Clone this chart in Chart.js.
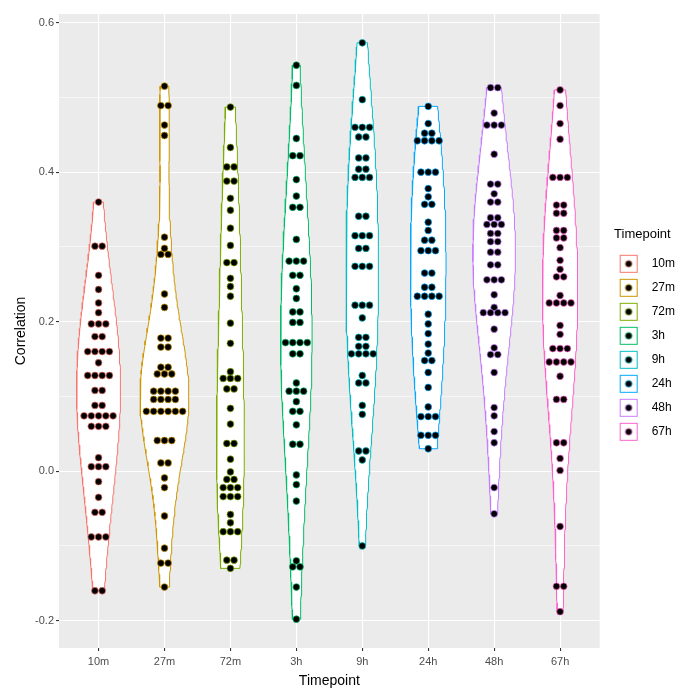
<!DOCTYPE html>
<html>
<head>
<meta charset="utf-8">
<script src="https://cdn.jsdelivr.net/npm/chart.js@4.4.0/dist/chart.umd.min.js"></script>
<style>
html, body { margin: 0; padding: 0; background: #fff; }
</style>
</head>
<body>
<canvas id="chart" width="689" height="690"></canvas>
<script>
// categories and colours (ggplot hue palette)
const timepoints = ['10m', '27m', '72m', '3h', '9h', '24h', '48h', '67h'];
const colors = ['#F8766D', '#CD9600', '#7CAE00', '#00BE67', '#00BFC4', '#00A9FF', '#C77CFF', '#FF61CC'];

// correlation values (repeated value = dots stacked in one row)
const corr10m = [0.360, 0.301, 0.301, 0.262, 0.243, 0.225, 0.212, 0.197, 0.197, 0.197, 0.180, 0.180,
  0.160, 0.160, 0.160, 0.160, 0.145, 0.128, 0.128, 0.128, 0.128, 0.108, 0.108, 0.088, 0.088,
  0.074, 0.074, 0.074, 0.074, 0.074, 0.060, 0.060, 0.060, 0.018, 0.006, 0.006, 0.006,
  -0.014, -0.035, -0.055, -0.055, -0.088, -0.088, -0.088, -0.160, -0.160];
const corr27m = [0.515, 0.489, 0.489, 0.463, 0.449, 0.313, 0.298, 0.290, 0.290, 0.237, 0.219,
  0.178, 0.178, 0.166, 0.166, 0.139, 0.139, 0.130, 0.130, 0.130, 0.107, 0.107, 0.107, 0.107,
  0.096, 0.096, 0.096, 0.096, 0.080, 0.080, 0.080, 0.080, 0.080, 0.080, 0.041, 0.041, 0.041,
  0.011, 0.011, -0.009, -0.022, -0.060, -0.103, -0.123, -0.123, -0.155];
const corr72m = [0.487, 0.433, 0.407, 0.407, 0.388, 0.388, 0.365, 0.349, 0.325, 0.302, 0.279, 0.279,
  0.258, 0.247, 0.234, 0.198, 0.171, 0.133, 0.124, 0.124, 0.124, 0.110, 0.110, 0.084, 0.063,
  0.037, 0.037, 0.016, -0.001, -0.011, -0.011, -0.022, -0.022, -0.022, -0.034, -0.034, -0.034,
  -0.058, -0.069, -0.081, -0.081, -0.081, -0.119, -0.119, -0.130];
const corr3h = [0.543, 0.516, 0.445, 0.422, 0.422, 0.390, 0.368, 0.353, 0.353, 0.310, 0.281, 0.281, 0.281,
  0.262, 0.262, 0.244, 0.231, 0.213, 0.213, 0.199, 0.199, 0.172, 0.172, 0.172, 0.172, 0.157, 0.157,
  0.118, 0.107, 0.107, 0.107, 0.093, 0.080, 0.080, 0.062, 0.036, 0.036, -0.005, -0.018, -0.040,
  -0.120, -0.128, -0.128, -0.155, -0.198];
const corr9h = [0.573, 0.497, 0.460, 0.460, 0.460, 0.447, 0.447, 0.419, 0.419, 0.404, 0.404,
  0.393, 0.393, 0.393, 0.341, 0.341, 0.315, 0.315, 0.315, 0.298, 0.298, 0.274, 0.274, 0.274,
  0.222, 0.222, 0.222, 0.205, 0.179, 0.179, 0.167, 0.167, 0.157, 0.157, 0.157, 0.157,
  0.128, 0.118, 0.118, 0.088, 0.076, 0.027, 0.027, 0.015, -0.100];
const corr24h = [0.488, 0.465, 0.452, 0.452, 0.442, 0.442, 0.442, 0.442, 0.400, 0.400, 0.400,
  0.378, 0.367, 0.357, 0.357, 0.333, 0.322, 0.309, 0.309, 0.295, 0.295, 0.295, 0.265, 0.265,
  0.246, 0.246, 0.234, 0.234, 0.234, 0.234, 0.210, 0.197, 0.184, 0.170, 0.158, 0.148, 0.148,
  0.132, 0.112, 0.086, 0.073, 0.073, 0.073, 0.048, 0.048, 0.048, 0.030];
const corr48h = [0.513, 0.513, 0.479, 0.463, 0.463, 0.463, 0.424, 0.384, 0.384, 0.371, 0.360, 0.360,
  0.339, 0.339, 0.330, 0.330, 0.330, 0.318, 0.318, 0.307, 0.307, 0.293, 0.293, 0.276, 0.276,
  0.256, 0.256, 0.256, 0.236, 0.219, 0.212, 0.212, 0.212, 0.212, 0.190, 0.165, 0.156, 0.156,
  0.132, 0.085, 0.074, 0.053, 0.038, -0.022, -0.057];
const corr67h = [0.510, 0.489, 0.465, 0.444, 0.393, 0.393, 0.393, 0.356, 0.356, 0.345, 0.345,
  0.322, 0.322, 0.312, 0.312, 0.299, 0.282, 0.270, 0.260, 0.260, 0.235, 0.225, 0.225, 0.225, 0.225,
  0.195, 0.183, 0.164, 0.164, 0.164, 0.146, 0.146, 0.146, 0.146, 0.127, 0.096, 0.096,
  0.038, 0.038, 0.017, 0.001, -0.074, -0.154, -0.154, -0.188];

const yTickValues = [-0.2, -0.1, 0, 0.1, 0.2, 0.3, 0.4, 0.5, 0.6];

const groups = [corr10m, corr27m, corr72m, corr3h, corr9h, corr24h, corr48h, corr67h];
const dotSpacing = 0.11;   // dot diameter in category units
const violinWidth = 0.74;
const bwAdjust = 1.9;

// bw.nrd0 like R
function bandwidth(v) {
  const n = v.length;
  const mean = v.reduce((a, b) => a + b, 0) / n;
  const sd = Math.sqrt(v.reduce((a, b) => a + (b - mean) ** 2, 0) / (n - 1));
  const s = [...v].sort((a, b) => a - b);
  const q = p => {
    const h = (n - 1) * p, lo = Math.floor(h);
    return s[lo] + (h - lo) * (s[Math.min(lo + 1, n - 1)] - s[lo]);
  };
  const lo = Math.min(sd, (q(0.75) - q(0.25)) / 1.34);
  return 0.9 * lo * Math.pow(n, -0.2);
}

function density(v) {
  const bw = bandwidth(v) * bwAdjust;
  const min = Math.min(...v), max = Math.max(...v);
  const out = [];
  for (let k = 0; k <= 120; k++) {
    const y = min + (max - min) * k / 120;
    let d = 0;
    v.forEach(x => { const u = (y - x) / bw; d += Math.exp(-0.5 * u * u); });
    out.push({ y: y, d: d / (v.length * bw * Math.sqrt(2 * Math.PI)) });
  }
  return out;
}

const densities = groups.map(density);
const maxDensity = Math.max(...densities.map(g => Math.max(...g.map(p => p.d))));

function violinOutline(dens, i) {
  const right = dens.map(p => ({ x: i + violinWidth / 2 * p.d / maxDensity, y: p.y }));
  const left = dens.map(p => ({ x: i - violinWidth / 2 * p.d / maxDensity, y: p.y })).reverse();
  return right.concat(left, [right[0]]);
}

function stackDots(values, i) {
  const rows = new Map();
  values.forEach(v => rows.set(v, (rows.get(v) || 0) + 1));
  const pts = [];
  rows.forEach((n, v) => {
    for (let k = 0; k < n; k++) pts.push({ x: i + (k - (n - 1) / 2) * dotSpacing, y: v });
  });
  return pts;
}

// y limits with ggplot's 5% expansion
const allValues = groups.flat();
const dataMin = Math.min(...allValues), dataMax = Math.max(...allValues);
const pad = (dataMax - dataMin) * 0.05;

const dotSets = groups.map((g, i) => ({
  data: stackDots(g, i),
  backgroundColor: '#000',
  borderColor: colors[i],
  borderWidth: 0.7,
  pointRadius: 3.4,
  order: 1
}));
const violinSets = densities.map((d, i) => ({
  data: violinOutline(d, i),
  showLine: true,
  borderColor: colors[i],
  borderWidth: 1,
  pointRadius: 0,
  fill: false,
  tension: 0,
  violin: true,
  order: 2
}));

// legend keys: outlined box with a dot
const keyIcons = colors.map(c => {
  const cv = document.createElement('canvas');
  cv.width = 20; cv.height = 20;
  const g = cv.getContext('2d');
  g.fillStyle = '#fff';
  g.fillRect(1, 1, 18, 18);
  g.strokeStyle = c;
  g.lineWidth = 1;
  g.strokeRect(1.5, 1.5, 17, 17);
  g.beginPath();
  g.arc(10, 10, 3.3, 0, Math.PI * 2);
  g.fillStyle = '#000';
  g.fill();
  g.strokeStyle = c;
  g.lineWidth = 0.7;
  g.stroke();
  return cv;
});

const panelBackground = {
  id: 'panelBackground',
  beforeDraw(chart) {
    const { ctx, chartArea: a } = chart;
    ctx.save();
    ctx.fillStyle = '#fff';
    ctx.fillRect(0, 0, chart.width, chart.height);
    ctx.fillStyle = '#EBEBEB';
    ctx.fillRect(a.left, a.top, a.right - a.left, a.bottom - a.top);
    ctx.restore();
  }
};

const violinFill = {
  id: 'violinFill',
  beforeDatasetsDraw(chart) {
    const ctx = chart.ctx;
    chart.data.datasets.forEach((ds, i) => {
      if (!ds.violin) return;
      const pts = chart.getDatasetMeta(i).data;
      ctx.save();
      ctx.beginPath();
      pts.forEach((p, k) => k ? ctx.lineTo(p.x, p.y) : ctx.moveTo(p.x, p.y));
      ctx.closePath();
      ctx.fillStyle = '#fff';
      ctx.fill();
      ctx.restore();
    });
  }
};

// lift the legend block a little
const legendShift = {
  id: 'legendShift',
  afterLayout(chart) {
    chart.legend.top -= 13;
    chart.legend.bottom -= 13;
  }
};

const isMajor = v => Math.abs(v * 5 - Math.round(v * 5)) < 1e-6;

new Chart(document.getElementById('chart'), {
  type: 'scatter',
  data: { datasets: dotSets.concat(violinSets) },
  options: {
    responsive: false,
    animation: false,
    events: [],
    layout: { padding: { top: 14, right: 4, left: 0, bottom: 0 } },
    plugins: {
      tooltip: { enabled: false },
      legend: {
        position: 'right',
        onClick: null,
        title: {
          display: true,
          text: 'Timepoint',
          color: '#000',
          font: { family: 'Liberation Sans', size: 13 },
          padding: { top: 0, bottom: 2 }
        },
        labels: {
          usePointStyle: true,
          pointStyleWidth: 34,
          padding: 12,
          color: '#1a1a1a',
          font: { family: 'Liberation Sans', size: 12 },
          generateLabels: () => timepoints.map((t, i) => ({
            text: t,
            pointStyle: keyIcons[i],
            fillStyle: 'transparent',
            strokeStyle: 'transparent',
            lineWidth: 0,
            hidden: false,
            datasetIndex: i
          }))
        }
      }
    },
    scales: {
      x: {
        type: 'linear',
        min: -0.6,
        max: timepoints.length - 0.4,
        afterBuildTicks: s => { s.ticks = timepoints.map((t, i) => ({ value: i })); },
        afterFit: s => { s.height = 42; },
        border: { display: false },
        grid: { color: '#fff', lineWidth: 1.1, tickColor: '#333', tickLength: 3 },
        ticks: {
          callback: v => timepoints[v],
          color: '#4D4D4D',
          padding: 4,
          maxRotation: 0,
          font: { family: 'Liberation Sans', size: 11 }
        },
        title: {
          display: true,
          text: 'Timepoint',
          color: '#000',
          font: { family: 'Liberation Sans', size: 14 },
          padding: { top: 0, bottom: 0 }
        }
      },
      y: {
        min: dataMin - pad,
        max: dataMax + pad,
        afterBuildTicks: s => { s.ticks = yTickValues.map(v => ({ value: v })); },
        afterFit: s => { s.width = 59; },
        border: { display: false },
        grid: {
          color: '#fff',
          lineWidth: c => isMajor(c.tick.value) ? 1.1 : 0.55,
          tickColor: c => isMajor(c.tick.value) ? '#333' : 'rgba(0,0,0,0)',
          tickLength: 3
        },
        ticks: {
          callback: v => isMajor(v) ? v.toFixed(1) : '',
          color: '#4D4D4D',
          padding: 2,
          font: { family: 'Liberation Sans', size: 11 }
        },
        title: {
          display: true,
          text: 'Correlation',
          color: '#000',
          font: { family: 'Liberation Sans', size: 14 },
          padding: { top: 13, bottom: 0 }
        }
      }
    }
  },
  plugins: [panelBackground, violinFill, legendShift]
});
</script>
</body>
</html>
